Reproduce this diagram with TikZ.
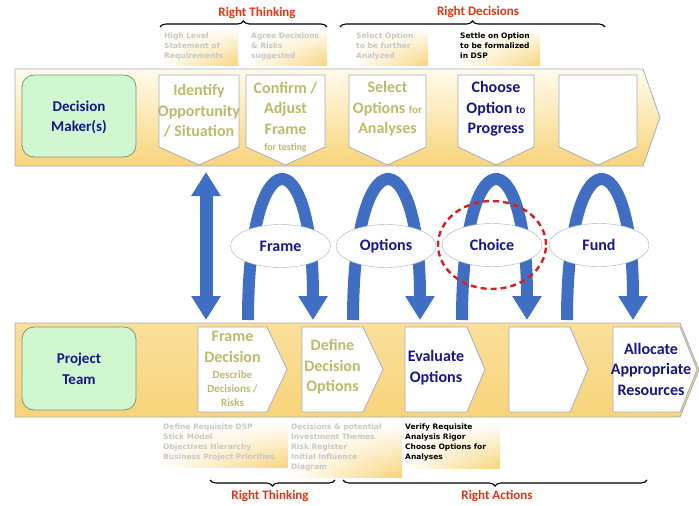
\documentclass[tikz,border=0pt]{standalone}
\usepackage{fontspec}
\setmainfont{Carlito}[BoldFont={Carlito Bold}]
\newfontfamily\notefont{DejaVu Sans}
\usetikzlibrary{arrows.meta,shapes.geometric,shadings,decorations.pathreplacing}

\definecolor{bandgold}{RGB}{248,212,122}
\definecolor{bandcream}{RGB}{255,251,236}
\definecolor{bandline}{RGB}{165,172,188}
\definecolor{mintbox}{RGB}{208,247,208}
\definecolor{mintline}{RGB}{125,150,125}
\definecolor{navytext}{RGB}{22,22,140}
\definecolor{olivetext}{RGB}{190,186,108}
\definecolor{arrowblue}{RGB}{64,110,194}
\definecolor{dashred}{RGB}{214,32,32}
\definecolor{bracered}{RGB}{228,52,18}
\definecolor{notegray}{RGB}{200,200,200}

\newcommand\smalltxt{\fontsize{11}{14}\selectfont}

\tikzset{
  stepline/.style={draw=bandline, fill=white, line width=0.8pt},
  rolebox/.style={draw=mintline, fill=mintbox, rounded corners=12pt, line width=0.8pt},
  roletext/.style={font=\bfseries\fontsize{15}{20.5}\selectfont, text=navytext, align=center},
  pasttext/.style={font=\bfseries\fontsize{16}{20.5}\selectfont, text=olivetext, align=center},
  nowtext/.style={font=\bfseries\fontsize{16}{20.5}\selectfont, text=navytext, align=center},
  phase/.style={ellipse, draw=bandline, fill=white, minimum width=100pt, minimum height=43pt,
    inner sep=0pt, font=\bfseries\fontsize{16}{18}\selectfont, text=navytext},
  bluearrow/.style={draw=arrowblue, line width=12pt, -{Triangle[width=28pt,length=24pt]}},
  note/.style={font=\notefont\bfseries\fontsize{7.5}{10}\selectfont, align=left, anchor=north west, inner sep=0pt},
  notebg/.style={upper left=white, upper right=white, lower left=white, lower right=bandgold},
  bracetext/.style={font=\bfseries\fontsize{13}{15}\selectfont, text=bracered},
  curly/.style={decorate, decoration={brace, amplitude=6pt}, line width=1.1pt},
}

\begin{document}
\begin{tikzpicture}[x=1pt,y=-1pt]
\useasboundingbox (0,0) rectangle (699,506);

% the two process bands
\shade[draw=bandline, line width=0.8pt, top color=bandcream, middle color=bandcream!55!bandgold, bottom color=bandgold]
  (15,69) -- (643,69) -- (660,117.5) -- (643,166) -- (15,166) -- cycle;
\shade[draw=bandline, line width=0.8pt, top color=bandgold!75!white, middle color=white, bottom color=bandgold]
  (15,323) -- (680,323) -- (699,370) -- (680,417) -- (15,417) -- cycle;

% who is involved
\draw[rolebox] (22,75) rectangle (136,157);
\node[roletext] (dm) at (79,117.5) {Decision\\Maker(s)};
\draw[rolebox] (22,327) rectangle (136,410);
\node[roletext] (team) at (79,369) {Project\\Team};

% decision maker steps
\draw[stepline] (159,75) -- (239,75) -- (239,147) -- (199,165) -- (159,147) -- cycle;
\draw[stepline] (246,75) -- (325,75) -- (325,147) -- (285.5,165) -- (246,147) -- cycle;
\draw[stepline] (349,75) -- (426,75) -- (426,147) -- (387.5,165) -- (349,147) -- cycle;
\draw[stepline] (458,75) -- (534,75) -- (534,147) -- (496,165) -- (458,147) -- cycle;
\draw[stepline] (559,75) -- (637,75) -- (637,147) -- (598,165) -- (559,147) -- cycle;
\node[pasttext] (identify) at (199,111) {Identify\\Opportunity\\/ Situation};
\node[pasttext] (confirm) at (285.5,117) {Confirm /\\Adjust\\Frame\\[-4pt]{\fontsize{10}{12}\selectfont for testing}};
\node[pasttext] (select) at (387.5,109) {Select\\Options {\smalltxt for}\\Analyses};
\node[nowtext] (choose) at (496,109) {Choose\\Option {\smalltxt to}\\Progress};

% project team steps
\draw[stepline] (198,327) -- (267,327) -- (287,369.5) -- (267,412) -- (198,412) -- cycle;
\draw[stepline] (302,327) -- (363,327) -- (383,369.5) -- (363,412) -- (302,412) -- cycle;
\draw[stepline] (405,327) -- (467,327) -- (485,369.5) -- (467,412) -- (405,412) -- cycle;
\draw[stepline] (509,327) -- (570,327) -- (588,369.5) -- (570,412) -- (509,412) -- cycle;
\draw[stepline] (613,327) -- (680,327) -- (697,369.5) -- (680,412) -- (613,412) -- cycle;
\node[pasttext] (framedec) at (232.5,369) {Frame\\Decision\\[-4.5pt]{\smalltxt Describe}\\[-6.5pt]{\smalltxt Decisions /}\\[-6.5pt]{\smalltxt Risks}};
\node[pasttext] (defineopt) at (332.5,367) {Define\\Decision\\Options};
\node[nowtext] (evaluate) at (436,367.5) {Evaluate\\Options};
\node[nowtext] (allocate) at (651,369) {Allocate\\Appropriate\\Resources};

% hand-over arrows between the bands
\coordinate (updn) at (206,246);
\coordinate (updnTop) at (206,172);
\coordinate (updnBot) at (206,320);
\draw[bluearrow, line width=13pt] (updn) -- (updnTop);
\draw[bluearrow, line width=13pt] (updn) -- (updnBot);

\coordinate (frameL) at (248,320);   \coordinate (frameR) at (313,320);
\coordinate (optL) at (353,320);     \coordinate (optR) at (420,320);
\coordinate (choiceL) at (462,320);  \coordinate (choiceR) at (527,320);
\coordinate (fundL) at (567,320);    \coordinate (fundR) at (633,320);
\draw[bluearrow] (frameL) .. controls +(0,-184) and +(0,-184) .. (frameR);
\draw[bluearrow] (optL) .. controls +(0,-184) and +(0,-184) .. (optR);
\draw[bluearrow] (choiceL) .. controls +(0,-184) and +(0,-184) .. (choiceR);
\draw[bluearrow] (fundL) .. controls +(0,-184) and +(0,-184) .. (fundR);

\node[phase] (frame) at (280.5,246) {Frame};
\node[phase] (options) at (386,246) {Options};
\node[phase] (choice) at (492,245) {Choice};
\node[phase] (fund) at (599,245) {Fund};
\draw[dashred, line width=2.4pt, dash pattern=on 6pt off 4pt] (choice.center) ellipse [x radius=54pt, y radius=44pt];

% notes above the top band
\shade[notebg] (160,28) rectangle (238,65);
\node[note, text=notegray] (req) at (164,33) {High Level\\Statement of\\Requirements};
\shade[notebg] (247,28) rectangle (327,65);
\node[note, text=notegray] (agree) at (251,33) {Agree Decisions\\\& Risks\\suggested};
\shade[notebg] (352,28) rectangle (428,65);
\node[note, text=notegray] (further) at (356,33) {Select Option\\to be further\\Analyzed};
\shade[notebg] (457,28) rectangle (540,65);
\node[note] (settle) at (460,33) {Settle on Option\\to be formalized\\in DSP};

% notes below the bottom band
\shade[notebg] (158,423) rectangle (288,467);
\node[note, text=notegray] (dsp) at (163,424) {Define Requisite DSP\\Stick Model\\Objectives Hierarchy\\Business Project Priorities};
\shade[notebg] (288,423) rectangle (402,477);
\node[note, text=notegray] (themes) at (291,424) {Decisions \& potential\\Investment Themes\\Risk Register\\Initial Influence\\Diagram};
\shade[notebg] (402,423) rectangle (500,468);
\node[note] (rigor) at (405,424) {Verify Requisite\\Analysis Rigor\\Choose Options for\\Analyses};

% braces
\draw[curly] (160,27) -- (327,27);
\node[bracetext] (thinkTop) at (257,13) {Right Thinking};
\draw[curly] (340,27) -- (605,27);
\node[bracetext] (decide) at (478,12) {Right Decisions};
\draw[curly, decoration={mirror}] (210,480) -- (335,480);
\node[bracetext] (thinkBot) at (270,496) {Right Thinking};
\draw[curly, decoration={mirror}] (343,480) -- (647,480);
\node[bracetext] (act) at (497,496) {Right Actions};
\end{tikzpicture}
\end{document}
